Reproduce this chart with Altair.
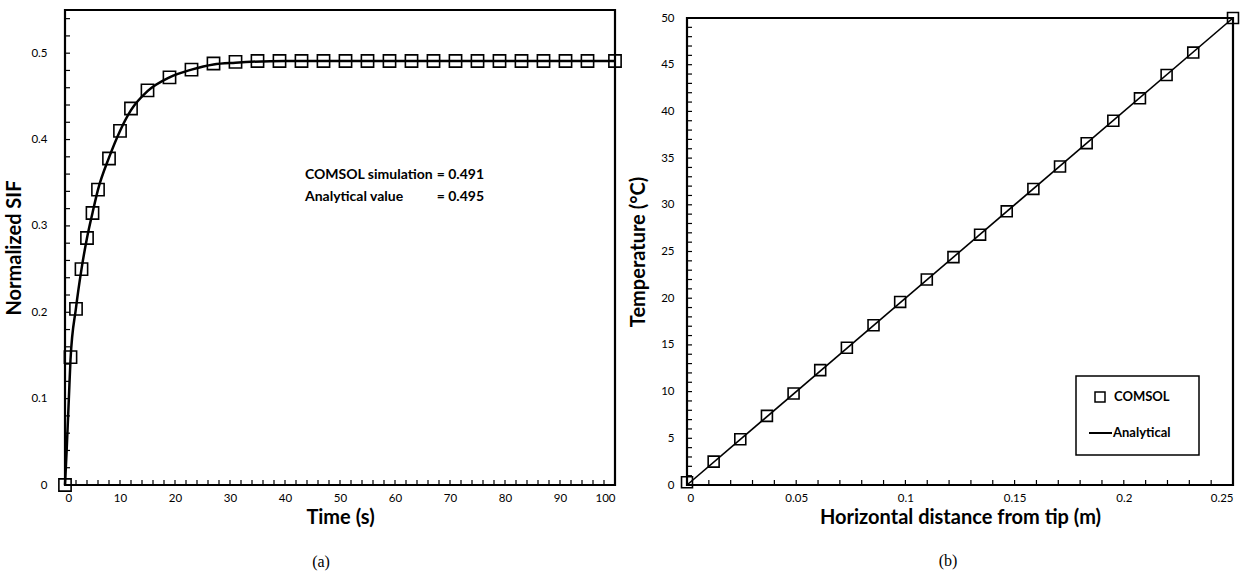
import altair as alt
import pandas as pd

# ---------------- data ----------------
# (a) normalized SIF vs time
time_s = [0, 1, 2, 3, 4, 5, 6, 8, 10, 12, 15, 19, 23, 27, 31, 35, 39, 43, 47,
          51, 55, 59, 63, 67, 71, 75, 79, 83, 87, 91, 95, 100]
sif_comsol = [0.0, 0.148, 0.204, 0.250, 0.286, 0.315, 0.342, 0.378, 0.410,
              0.436, 0.457, 0.472, 0.481, 0.488, 0.490, 0.491, 0.491, 0.491,
              0.491, 0.491, 0.491, 0.491, 0.491, 0.491, 0.491, 0.491, 0.491,
              0.491, 0.491, 0.491, 0.491, 0.491]
time_line = [0, 0.3, 0.7, 1, 2, 3, 4, 5, 6, 8, 10, 12, 15, 19, 23, 27, 31, 40, 60, 100]
sif_line = [0.0, 0.04, 0.10, 0.145, 0.205, 0.250, 0.286, 0.315, 0.342, 0.379,
            0.410, 0.434, 0.456, 0.472, 0.481, 0.487, 0.489, 0.491, 0.491, 0.491]

# (b) temperature vs horizontal distance from tip
dist_m = [0, 0.0122, 0.0244, 0.0366, 0.0488, 0.061, 0.0732, 0.0854, 0.0976,
          0.1098, 0.122, 0.1342, 0.1464, 0.1586, 0.1708, 0.183, 0.1952,
          0.2074, 0.2196, 0.2318, 0.25]
temp_comsol = [0.3, 2.5, 4.9, 7.4, 9.8, 12.3, 14.7, 17.1, 19.6, 22.0, 24.4,
               26.8, 29.3, 31.7, 34.1, 36.6, 39.0, 41.4, 43.9, 46.3, 50.0]
dist_line = [0, 0.25]
temp_line = [0, 50]

# axis ticks
a_x_labels = [0, 10, 20, 30, 40, 50, 60, 70, 80, 90, 100]
a_y_labels = [0, 0.1, 0.2, 0.3, 0.4, 0.5]
a_x_ticks = list(range(0, 101, 2))
a_y_ticks = [round(i * 0.02, 2) for i in range(0, 28)]
b_x_labels = [0, 0.05, 0.1, 0.15, 0.2, 0.25]
b_y_labels = [0, 5, 10, 15, 20, 25, 30, 35, 40, 45, 50]
b_x_ticks = [round(i * 0.01, 2) for i in range(0, 26)]
b_y_ticks = list(range(0, 51))

FONT = "Lato"
W1, H1 = 550, 475
W2, H2 = 546, 467
TICK = 5


def inside_ticks(xvals, yvals, xname, yname, H):
    tx = alt.Chart(pd.DataFrame({xname: xvals})).mark_rule(
        color="black", strokeWidth=1.2
    ).encode(x=alt.X(f"{xname}:Q"), y=alt.value(H), y2=alt.value(H - TICK))
    ty = alt.Chart(pd.DataFrame({yname: yvals})).mark_rule(
        color="black", strokeWidth=1.2
    ).encode(y=alt.Y(f"{yname}:Q"), x=alt.value(0), x2=alt.value(TICK))
    return tx, ty


# ---------------- panel (a) ----------------
xa = alt.X("t:Q", scale=alt.Scale(domain=[0, 100], nice=False),
           axis=alt.Axis(values=a_x_labels, title="Time (s)", format="d",
                         labelPadding=7, titlePadding=4))
ya = alt.Y("v:Q", scale=alt.Scale(domain=[0, 0.55], nice=False),
           axis=alt.Axis(values=a_y_labels, title="Normalized SIF", format="~g",
                         labelPadding=18, titlePadding=6))

df_a = pd.DataFrame({"t": time_s, "v": sif_comsol})
df_al = pd.DataFrame({"t": time_line, "v": sif_line})

line_a = alt.Chart(df_al).mark_line(
    color="black", strokeWidth=2.5, interpolate="monotone"
).encode(x=xa, y=ya)
pts_a = alt.Chart(df_a).mark_point(
    shape="square", size=150, filled=False, color="black", strokeWidth=1.6, opacity=1
).encode(x="t:Q", y="v:Q")
tx_a, ty_a = inside_ticks(a_x_ticks, a_y_ticks, "t", "v", H1)

ann_rows = pd.DataFrame({"k": [0]})
ann = []
for txt, px, py, al in [("COMSOL simulation", 240, 165, "left"), ("= 0.491", 419, 165, "right"),
                        ("Analytical value", 240, 187, "left"), ("= 0.495", 419, 187, "right")]:
    ann.append(alt.Chart(ann_rows).mark_text(
        text=txt, font=FONT, fontSize=14, fontWeight="bold", align=al,
        baseline="middle", color="black"
    ).encode(x=alt.value(px), y=alt.value(py)))

panel_a = alt.layer(tx_a, ty_a, line_a, pts_a, *ann).properties(
    width=W1, height=H1,
    title=alt.TitleParams("(a)", orient="bottom", font="Liberation Serif",
                          fontSize=16, fontWeight="normal", offset=26,
                          anchor="middle", frame="group", dx=-19, color="black"),
)

# ---------------- panel (b) ----------------
xb = alt.X("x:Q", scale=alt.Scale(domain=[0, 0.25], nice=False),
           axis=alt.Axis(values=b_x_labels, title="Horizontal distance from tip (m)",
                         format="~g", labelPadding=7, titlePadding=4))
yb = alt.Y("y:Q", scale=alt.Scale(domain=[0, 50], nice=False),
           axis=alt.Axis(values=b_y_labels, title="Temperature (°C)", format="~g",
                         labelPadding=13, titlePadding=12))

df_b = pd.DataFrame({"x": dist_m, "y": temp_comsol})
df_bl = pd.DataFrame({"x": dist_line, "y": temp_line})

line_b = alt.Chart(df_bl).mark_line(color="black", strokeWidth=1.6).encode(x=xb, y=yb)
pts_b = alt.Chart(df_b).mark_point(
    shape="square", size=120, filled=False, color="black", strokeWidth=1.6, opacity=1
).encode(x="x:Q", y="y:Q")
tx_b, ty_b = inside_ticks(b_x_ticks, b_y_ticks, "x", "y", H2)

one = pd.DataFrame({"k": [0]})
leg_box = alt.Chart(one).mark_rect(
    fill="white", stroke="black", strokeWidth=1.5
).encode(x=alt.value(389), x2=alt.value(512), y=alt.value(358), y2=alt.value(437))
leg_sq = alt.Chart(one).mark_point(
    shape="square", size=100, filled=False, color="black", strokeWidth=1.5, opacity=1
).encode(x=alt.value(413), y=alt.value(379))
leg_t1 = alt.Chart(one).mark_text(
    text="COMSOL", font=FONT, fontSize=13, fontWeight="bold", align="left",
    baseline="middle", color="black"
).encode(x=alt.value(427), y=alt.value(379))
leg_ln = alt.Chart(one).mark_rule(color="black", strokeWidth=2).encode(
    x=alt.value(402), x2=alt.value(425), y=alt.value(415))
leg_t2 = alt.Chart(one).mark_text(
    text="Analytical", font=FONT, fontSize=13, fontWeight="bold", align="left",
    baseline="middle", color="black"
).encode(x=alt.value(426), y=alt.value(415))

panel_b = alt.layer(tx_b, ty_b, line_b, pts_b, leg_box, leg_sq, leg_t1, leg_ln, leg_t2).properties(
    width=W2, height=H2,
    title=alt.TitleParams("(b)", orient="bottom", font="Liberation Serif",
                          fontSize=16, fontWeight="normal", offset=25,
                          anchor="middle", frame="group", dx=-12, color="black"),
)

spacer = alt.Chart(one).mark_point(opacity=0).encode(
    x=alt.value(0), y=alt.value(0)
).properties(width=W2, height=1, view=alt.ViewConfig(stroke="transparent"))

right = alt.vconcat(spacer, panel_b, spacing=-6)

chart = alt.hconcat(panel_a, right, spacing=1).properties(
    padding={"left": 3, "top": 6, "right": 5, "bottom": 5},
    background="white",
).configure_view(
    stroke="black", strokeWidth=2.2
).configure_axis(
    ticks=False, domain=False, grid=False,
    labelFont=FONT, labelFontSize=11.5, labelColor="black",
    titleFont=FONT, titleFontSize=20, titleFontWeight="bold", titleColor="black",
)

chart.save("out.html", embed_options={"renderer": "svg", "actions": False})
